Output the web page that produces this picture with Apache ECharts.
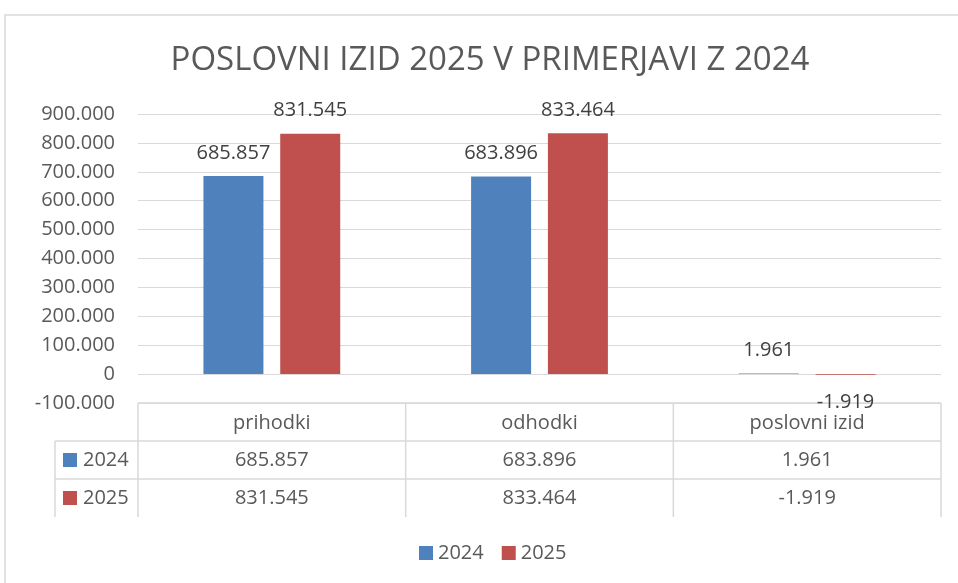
<!DOCTYPE html>
<html>
<head>
<meta charset="utf-8">
<title>Poslovni izid 2025 v primerjavi z 2024</title>
<script src="https://cdn.jsdelivr.net/npm/echarts@6/dist/echarts.min.js"></script>
<style>
  html, body { margin: 0; padding: 0; background: #fff; }
  #chart { width: 958px; height: 583px; }
</style>
</head>
<body>
<div id="chart"></div>
<script>
// podatki
const categories = ['prihodki', 'odhodki', 'poslovni izid']
const years = ['2024', '2025']
const values2024 = [685857, 683896, 1961]
const values2025 = [831545, 833464, -1919]
const yMin = -100000
const yMax = 900000
const yStep = 100000

const colors = ['#4f81bd', '#c0504d']
const textColor = '#595959'
const borderColor = '#d9d9d9'
const font = '"Open Sans", sans-serif'

// 1.961 / -1.919 (pika kot ločilo tisočic)
function fmt (v) {
  const s = String(Math.abs(v)).replace(/\B(?=(\d{3})+(?!\d))/g, '.')
  return (v < 0 ? '-' : '') + s
}

function barData (values) {
  return values.map(v => ({
    value: v,
    label: {
      position: v < 0 ? 'bottom' : 'top',
      distance: v < 0 ? 18 : 13
    }
  }))
}

const option = {
  animation: false,
  title: {
    text: 'POSLOVNI IZID 2025 V PRIMERJAVI Z 2024',
    left: 490,
    top: 44,
    padding: 0,
    textAlign: 'center',
    textStyle: { fontFamily: font, fontSize: 33, fontWeight: 'normal', color: textColor }
  },
  legend: {
    data: years,
    left: 419,
    top: 543,
    padding: 0,
    icon: 'rect',
    itemWidth: 14,
    itemHeight: 14,
    itemGap: 18,
    textStyle: { fontFamily: font, fontSize: 20, color: textColor }
  },
  grid: { left: 138, right: 17, top: 114, bottom: 180, containLabel: false },
  xAxis: {
    type: 'category',
    data: categories,
    axisLine: { show: false },
    axisTick: { show: false },
    axisLabel: { show: false },
    splitLine: { show: false }
  },
  yAxis: {
    type: 'value',
    min: yMin,
    max: yMax,
    interval: yStep,
    axisLine: { show: false },
    axisTick: { show: false },
    axisLabel: { formatter: fmt, fontFamily: font, fontSize: 20, color: textColor, margin: 23 },
    splitLine: { lineStyle: { color: borderColor, width: 1 } }
  },
  series: [
    {
      name: years[0],
      type: 'bar',
      barWidth: 60,
      barGap: '28%',
      itemStyle: { color: colors[0] },
      label: { show: true, formatter: p => fmt(p.value), fontFamily: font, fontSize: 20, color: '#404040' },
      data: barData(values2024)
    },
    {
      name: years[1],
      type: 'bar',
      barWidth: 60,
      barGap: '28%',
      itemStyle: { color: colors[1] },
      label: { show: true, formatter: p => fmt(p.value), fontFamily: font, fontSize: 20, color: '#404040' },
      data: barData(values2025)
    }
  ]
}

const myChart = echarts.init(document.getElementById('chart'))
myChart.setOption(option)

// tabela podatkov pod grafom (kot v Excelu)
function drawTable () {
  const rowH = 38
  const keyLeft = 55
  const c0 = myChart.convertToPixel({ xAxisIndex: 0 }, 0)
  const c1 = myChart.convertToPixel({ xAxisIndex: 0 }, 1)
  const colW = c1 - c0
  const tableLeft = c0 - colW / 2
  const tableRight = tableLeft + colW * categories.length
  const top = myChart.convertToPixel({ yAxisIndex: 0 }, yMin)
  const rows = [values2024, values2025]
  const els = []
  const line = (x1, y1, x2, y2) => els.push({
    type: 'line', silent: true,
    shape: { x1, y1, x2, y2 },
    style: { stroke: borderColor, lineWidth: 1.5 }
  })
  const text = (x, y, t) => els.push({
    type: 'text', silent: true, x, y,
    style: { text: t, fill: textColor, font: '20px ' + font, align: 'center', verticalAlign: 'middle' }
  })

  // okvir grafa
  els.push({
    type: 'rect', silent: true,
    shape: { x: 5, y: 15, width: 1000, height: 600 },
    style: { fill: null, stroke: borderColor, lineWidth: 1.5 }
  })

  // vodoravne črte
  line(tableLeft, top, tableRight, top)
  for (let r = 1; r <= rows.length; r++) {
    line(keyLeft, top + r * rowH, tableRight, top + r * rowH)
  }
  // navpične črte
  line(keyLeft, top + rowH, keyLeft, top + rowH * (rows.length + 1))
  for (let c = 0; c <= categories.length; c++) {
    line(tableLeft + c * colW, top, tableLeft + c * colW, top + rowH * (rows.length + 1))
  }

  // glava
  categories.forEach((cat, i) => text(c0 + i * colW, top + rowH / 2 + 1, cat))
  // vrstice
  rows.forEach((vals, r) => {
    const cy = top + rowH * (r + 1) + rowH / 2
    els.push({
      type: 'rect', silent: true,
      shape: { x: keyLeft + 8, y: cy - 7, width: 14, height: 14 },
      style: { fill: colors[r] }
    })
    els.push({
      type: 'text', silent: true, x: keyLeft + 28, y: cy,
      style: { text: years[r], fill: textColor, font: '20px ' + font, align: 'left', verticalAlign: 'middle' }
    })
    vals.forEach((v, i) => text(c0 + i * colW, cy, fmt(v)))
  })

  myChart.setOption({ graphic: { elements: els } })
}
drawTable()
</script>
</body>
</html>
